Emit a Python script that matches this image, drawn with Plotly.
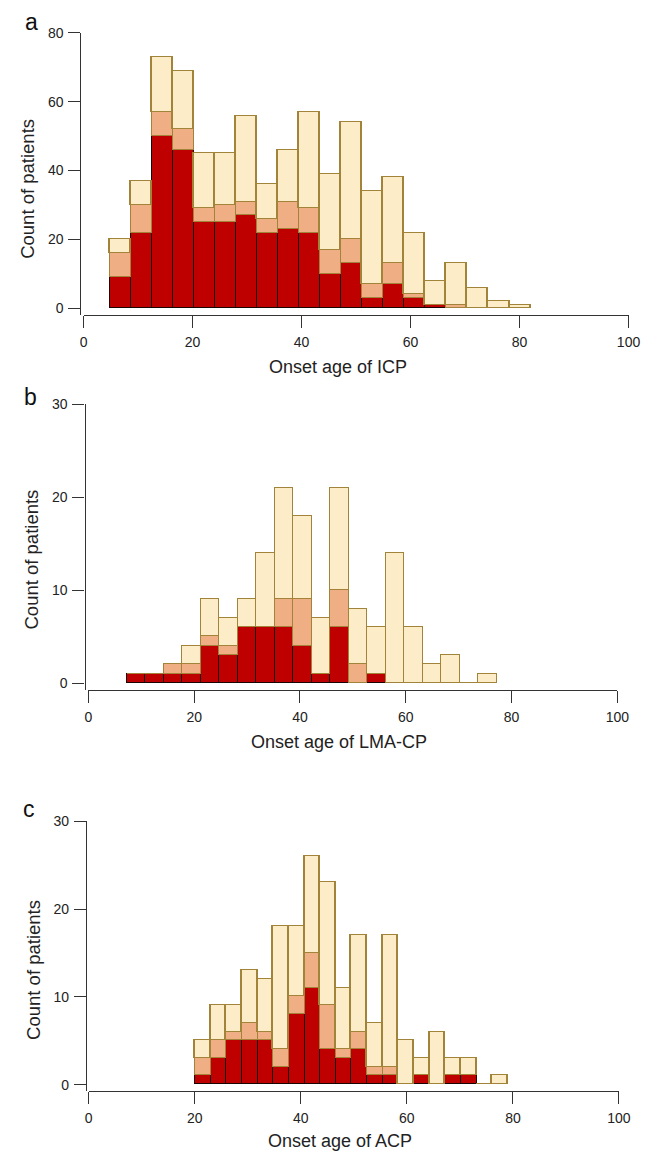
import numpy as np
import plotly.graph_objects as go

# ---------------- data ----------------
# Panel a: onset age of ICP (20 bins)
a_bin_start, a_bin_width = 4.75, 3.86
a_red = [9, 22, 50, 46, 25, 25, 27, 22, 23, 22, 10, 13, 3, 7, 3, 1, 0, 0, 0, 0]
a_orange = [7, 8, 7, 6, 4, 5, 4, 4, 8, 7, 7, 7, 4, 6, 1, 0, 1, 0, 0, 0]
a_yellow = [4, 7, 16, 17, 16, 15, 25, 10, 15, 28, 22, 34, 27, 25, 18, 7, 12, 6, 2, 1]

# Panel b: onset age of LMA-CP (20 bins)
b_bin_start, b_bin_width = 7.3, 3.5
b_red = [1, 1, 1, 1, 4, 3, 6, 6, 6, 4, 1, 6, 0, 1, 0, 0, 0, 0, 0, 0]
b_orange = [0, 0, 1, 1, 1, 1, 0, 0, 3, 5, 0, 4, 2, 0, 0, 0, 0, 0, 0, 0]
b_yellow = [0, 0, 0, 2, 4, 3, 3, 8, 12, 9, 6, 11, 6, 5, 14, 6, 2, 3, 0, 1]

# Panel c: onset age of ACP (20 bins)
c_bin_start, c_bin_width = 20.0, 2.95
c_red = [1, 3, 5, 5, 5, 2, 8, 11, 4, 3, 4, 1, 1, 0, 1, 0, 1, 1, 0, 0]
c_orange = [2, 2, 1, 2, 1, 2, 2, 4, 5, 1, 2, 1, 1, 0, 0, 0, 0, 0, 0, 0]
c_yellow = [2, 4, 3, 6, 6, 14, 8, 11, 14, 7, 11, 5, 15, 5, 2, 6, 2, 2, 0, 1]

x_ticks = [0, 20, 40, 60, 80, 100]
a_y_ticks = [0, 20, 40, 60, 80]
bc_y_ticks = [0, 10, 20, 30]

# ---------------- style ----------------
W, H = 662, 1158
RED, ORANGE, YELLOW = "#BE0000", "#F0AE84", "#FCEDC8"
RED_LINE, LIGHT_LINE = "#1a0505", "#A2833A"
AXC = "#333333"
FONT = "Liberation Sans, Arial, sans-serif"


def fx(px):
    return px / W


def fy(py):
    return (H - py) / H


panels = [
    dict(letter="a", title="Onset age of ICP", start=a_bin_start, width=a_bin_width,
         red=a_red, orange=a_orange, yellow=a_yellow, yticks=a_y_ticks,
         yline_x=78.3, x0=81.6, x1=640.0, base=302.7, axis_y=310, unit=3.47,
         letter_xy=(28.5, 14.6), ytitle_xy=(24, 182), xtitle_xy=(342.5, 362)),
    dict(letter="b", title="Onset age of LMA-CP", start=b_bin_start, width=b_bin_width,
         red=b_red, orange=b_orange, yellow=b_yellow, yticks=bc_y_ticks,
         yline_x=82.5, x0=86.5, x1=628.5, base=681, axis_y=687.7, unit=9.38,
         letter_xy=(27, 392), ytitle_xy=(28, 556), xtitle_xy=(343, 740)),
    dict(letter="c", title="Onset age of ACP", start=c_bin_start, width=c_bin_width,
         red=c_red, orange=c_orange, yellow=c_yellow, yticks=bc_y_ticks,
         yline_x=84.0, x0=86.8, x1=630.2, base=1086, axis_y=1092, unit=8.85,
         letter_xy=(26, 808), ytitle_xy=(30, 970), xtitle_xy=(344, 1143)),
]

fig = go.Figure()
annotations = []
layout_axes = {}

for i, p in enumerate(panels):
    n = i + 1
    xa = "x" if n == 1 else f"x{n}"
    ya = "y" if n == 1 else f"y{n}"
    centers = p["start"] + (np.arange(len(p["red"])) + 0.5) * p["width"]
    for vals, col, lc, lw in [(p["red"], RED, RED_LINE, 1.0),
                              (p["orange"], ORANGE, LIGHT_LINE, 1.0),
                              (p["yellow"], YELLOW, LIGHT_LINE, 1.3)]:
        fig.add_trace(go.Bar(
            x=centers, y=vals, width=p["width"], xaxis=xa, yaxis=ya,
            marker=dict(color=col, line=dict(color=lc, width=lw)),
            showlegend=False, hoverinfo="skip"))

    top_val = p["yticks"][-1]
    top_px = p["base"] - top_val * p["unit"]
    bottom_val = -(p["axis_y"] - p["base"]) / p["unit"]

    xkey = "xaxis" if n == 1 else f"xaxis{n}"
    ykey = "yaxis" if n == 1 else f"yaxis{n}"
    layout_axes[xkey] = dict(
        domain=[fx(p["x0"]), fx(p["x1"])], range=[0, 100], anchor=ya,
        tickvals=x_ticks, ticks="outside", ticklen=12, tickwidth=1.3, tickcolor=AXC,
        showline=True, linecolor=AXC, linewidth=1.3, showgrid=False, zeroline=False,
        tickfont=dict(size=14, color="#222", family=FONT), ticklabelstandoff=2,
        fixedrange=True)
    layout_axes[ykey] = dict(
        domain=[fy(p["axis_y"]), fy(top_px)], range=[bottom_val, top_val],
        anchor="free", position=fx(p["yline_x"]),
        tickvals=p["yticks"], ticks="outside", ticklen=12, tickwidth=1.3, tickcolor=AXC,
        showline=True, linecolor=AXC, linewidth=1.3, showgrid=False, zeroline=False,
        tickfont=dict(size=14, color="#222", family=FONT), ticklabelstandoff=2,
        fixedrange=True)

    lx, ly = p["letter_xy"]
    annotations.append(dict(text=p["letter"], x=fx(lx), y=fy(ly), xref="paper", yref="paper",
                            xanchor="center", yanchor="middle", showarrow=False,
                            font=dict(size=23, color="#111", family=FONT)))
    tx, ty = p["ytitle_xy"]
    annotations.append(dict(text="Count of patients", x=fx(tx), y=fy(ty), xref="paper",
                            yref="paper", xanchor="center", yanchor="middle", textangle=-90,
                            showarrow=False, font=dict(size=18.5, color="#222", family=FONT)))
    xx, xy = p["xtitle_xy"]
    annotations.append(dict(text=p["title"], x=fx(xx), y=fy(xy), xref="paper", yref="paper",
                            xanchor="center", yanchor="middle", showarrow=False,
                            font=dict(size=18, color="#222", family=FONT)))

fig.update_layout(
    width=W, height=H, margin=dict(l=0, r=0, t=0, b=0),
    paper_bgcolor="white", plot_bgcolor="white",
    barmode="stack", bargap=0,
    font=dict(family=FONT, color="#222"),
    annotations=annotations,
    **layout_axes)

fig.write_html("out.html", config={"displayModeBar": False},
               post_script="document.body.style.margin='0';")
